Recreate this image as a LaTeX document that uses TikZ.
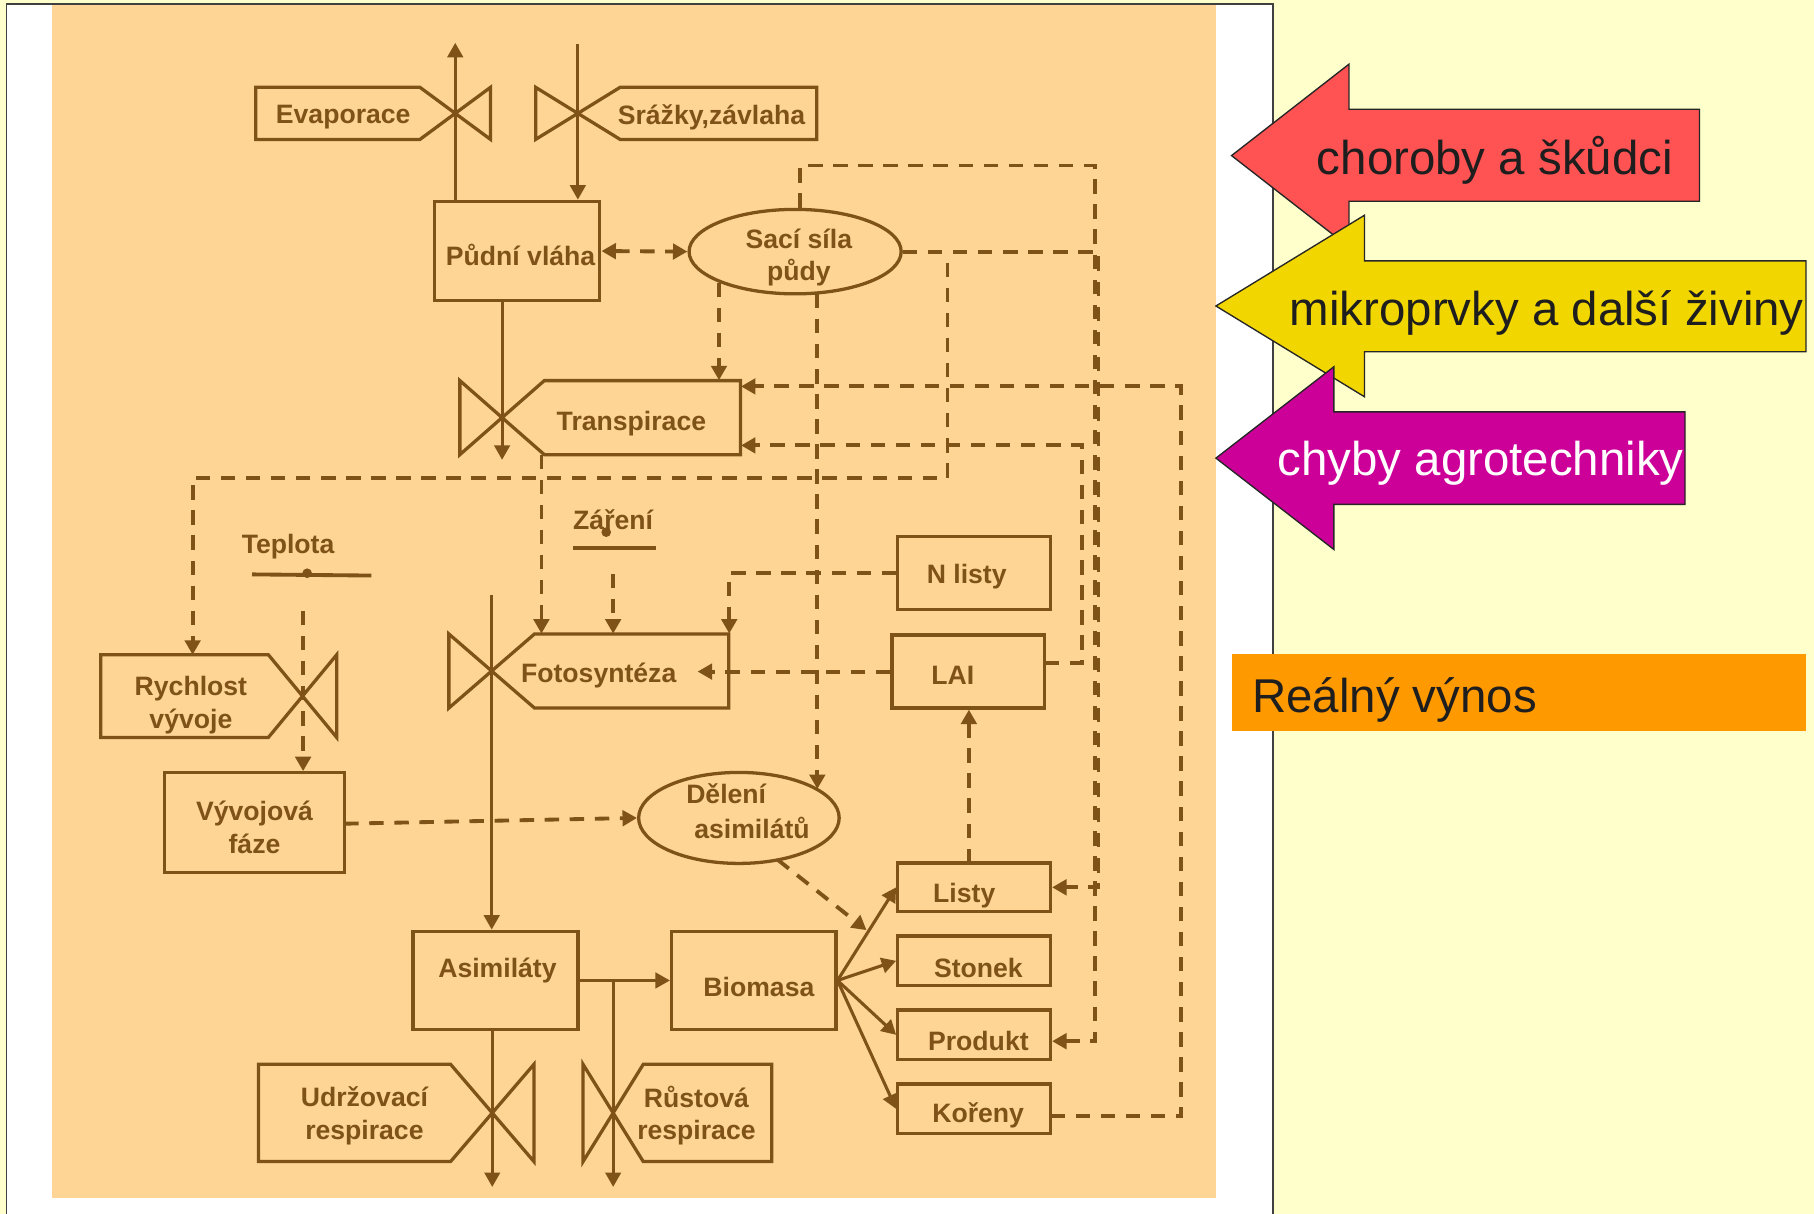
\documentclass[tikz,border=0pt]{standalone}
\usepackage{fontspec}
\setmainfont{Liberation Sans}
\usetikzlibrary{arrows.meta,shapes.geometric,fit}
\definecolor{brn}{HTML}{7F5218}
\definecolor{peach}{HTML}{FFD596}
\definecolor{ltyel}{HTML}{FFFFCC}
\definecolor{redarr}{HTML}{FF5252}
\definecolor{yelarr}{HTML}{F2D600}
\definecolor{magarr}{HTML}{CC0099}
\definecolor{orng}{HTML}{FF9900}
\definecolor{ink}{HTML}{1E1E1E}

% box with valve on its right side
\newcommand\ValveBoxA[5]{%
  \draw[boxline] ({#1-#4},{#2-#3}) -- (#5,{#2-#3}) -- (#5,{#2+#3}) -- ({#1-#4},{#2+#3})
    -- ({#1+#4},{#2-#3}) -- ({#1+#4},{#2+#3}) -- cycle;}
% box with valve on its left side
\newcommand\ValveBoxB[5]{%
  \draw[boxline] ({#1+#4},{#2-#3}) -- (#5,{#2-#3}) -- (#5,{#2+#3}) -- ({#1+#4},{#2+#3})
    -- ({#1-#4},{#2-#3}) -- ({#1-#4},{#2+#3}) -- cycle;}

\begin{document}
\begin{tikzpicture}[x=0.6pt,y=-0.6pt,
  >={Triangle[length=7.5pt,width=8pt]},
  lbl/.style={font=\fontsize{13.8}{16.8}\selectfont\bfseries, text=brn, align=center, inner sep=0pt},
  boxline/.style={draw=brn, line width=1.7pt, line join=miter},
  rbox/.style={boxline, rectangle, inner sep=0pt},
  ebox/.style={boxline, ellipse, inner sep=0pt},
  area/.style={inner sep=0pt, draw=none},
  flow/.style={draw=brn, line width=1.6pt, ->},
  info/.style={draw=brn, line width=2pt, dash pattern=on 7.5pt off 5.5pt},
  big/.style={font=\fontsize{24.6}{28}\selectfont, inner sep=0pt, text=ink},
  bigarrow/.style={draw=black!85, line width=0.7pt, line join=miter}
]
\useasboundingbox (0,0) rectangle (1568,1049);
% backgrounds
\fill[ltyel] (0,0) rectangle (1568,1049);
\fill[white] (5.5,3.5) rectangle (1100.5,1049);
\draw[black!75, line width=0.8pt] (5.5,1049) -- (5.5,3.5) -- (1100.5,3.5) -- (1100.5,1049);
\fill[peach] (45,4.5) rectangle (1051.5,1035.5);

% rectangles
\node[rbox, fit={(375.5,174) (518.5,260)}] (pv) {};
\node[rbox, fit={(357,805) (499.5,890)}] (as) {};
\node[rbox, fit={(580.5,805) (722.5,890)}] (bm) {};
\node[rbox, fit={(776,464) (908,527)}] (nl) {};
\node[rbox, fit={(771,549) (903,612)}] (lai) {};
\node[rbox, fit={(776,746) (908,788)}] (li) {};
\node[rbox, fit={(776,809) (908,852)}] (st) {};
\node[rbox, fit={(776,873) (908,916)}] (pr) {};
\node[rbox, fit={(776,937) (908,980)}] (ko) {};
\node[rbox, fit={(142.5,668) (297.5,754)}] (vf) {};

% ellipses
\node[ebox, minimum width=110pt, minimum height=43.8pt] (ss) at (687.3,217.5) {};
\node[ebox, minimum width=104pt, minimum height=47.2pt] (da) at (638.7,707) {};

% valve boxes
\coordinate (evc) at (393.5,98);   \ValveBoxA{393.5}{98}{22.5}{30.5}{221}
\coordinate (szc) at (499.5,98);   \ValveBoxB{499.5}{98}{22.5}{36.5}{706}
\coordinate (trc) at (434,361);    \ValveBoxB{434}{361}{32}{36.5}{640}
\coordinate (foc) at (425,580);    \ValveBoxB{425}{580}{32}{37}{630}
\coordinate (rvc) at (261.5,601.7);\ValveBoxA{261.5}{601.7}{35.7}{29.5}{87}
\coordinate (udc) at (425.5,962);  \ValveBoxA{425.5}{962}{42}{36}{223.5}
\coordinate (ruc) at (530,962);    \ValveBoxB{530}{962}{42}{26}{667}

\node[area, fit={(221,75.5) (424,120.5)}] (ev) {};
\node[area, fit={(463,75.5) (706,120.5)}] (sz) {};
\node[area, fit={(397.5,329) (640,393)}] (tr) {};
\node[area, fit={(388,548) (630,612)}] (fo) {};
\node[area, fit={(87,566) (291,637.4)}] (rv) {};
\node[area, fit={(223.5,920) (462,1004)}] (ud) {};
\node[area, fit={(504,920) (667,1004)}] (ru) {};

% labels
\node[lbl] (evt) at (296.7,101) {Evaporace};
\node[lbl] (szt) at (615,101) {Srážky,závlaha};
\node[lbl] (pvt) at (450,220.5) {Půdní vláha};
\node[lbl] (sst) at (690.5,222.5) {Sací síla\\půdy};
\node[lbl] (trt) at (545.8,366) {Transpirace};
\node[lbl] (fot) at (517.5,583.5) {Fotosyntéza};
\node[lbl] (rvt) at (165,609.5) {Rychlost\\vývoje};
\node[lbl] (vft) at (220,715) {Vývojová\\fáze};
\node[lbl] (dat1) at (627.7,686) {Dělení};
\node[lbl] (dat2) at (650,716) {asimilátů};
\node[lbl] (udt) at (315,964.5) {Udržovací\\respirace};
\node[lbl] (rut) at (602,964.5) {Růstová\\respirace};
\node[lbl] (ast) at (430,838.5) {Asimiláty};
\node[lbl] (bmt) at (656,853) {Biomasa};
\node[lbl] (nlt) at (835.6,498.5) {N listy};
\node[lbl] (lait) at (823.5,584) {LAI};
\node[lbl] (lit) at (833.5,774) {Listy};
\node[lbl] (stt) at (845.7,837) {Stonek};
\node[lbl] (prt) at (845.7,900) {Produkt};
\node[lbl] (kot) at (845.5,964) {Kořeny};
\node[lbl] (tpt) at (249,472.5) {Teplota};
\node[lbl] (zat) at (530,449) {Záření};

% Teplota / Zareni bars
\draw[brn, line width=2pt] (218,496.5) -- (321,497.5);
\node[circle, fill=brn, inner sep=0pt, minimum size=5pt] (tpdot) at (265.5,495.5) {};
\draw[brn, line width=2pt] (495,474) -- (567,474);
\node[circle, fill=brn, inner sep=0pt, minimum size=5pt] (zadot) at (524,460) {};

% solid flows
\coordinate (evtop) at (393.5,37);
\coordinate (sztop) at (499.5,38);
\coordinate (trbot) at (434,397.5);
\coordinate (fotop) at (425,514);
\coordinate (asbm) at (530,847.5);
\coordinate (udbot) at (425.5,1026);
\coordinate (rubot) at (530,1026);
\draw[flow] (pv.north -| evc) -- (evtop);
\draw[flow] (sztop) -- (pv.north -| sztop);
\draw[flow] (pv.south -| trc) -- (trbot);
\draw[flow] (fotop) -- (as.north -| fotop);
\draw[flow] (as.east) -- (bm.west);
\draw[flow] (asbm) -- (rubot);
\draw[flow] (as.south -| udbot) -- (udbot);
\draw[flow] (bm.east) -- (li.west);
\draw[flow] (bm.east) -- (st.west);
\draw[flow] (bm.east) -- (pr.west);
\draw[flow] (bm.east) -- (ko.west);

% dashed information links
\draw[info,<->] (pv.east) -- (ss.west);
\draw[info,->] (ss.south west) -- (ss.south west |- tr.north);
\draw[info,->] (ss.north) ++(4.5,0) |- (946.5,143) |- ([yshift=-3.3pt]pr.east);
\draw[info,->] (ss.east) -- (949.5,217.5) |- (li.east);
\coordinate (d5) at (819,227);
\coordinate (rvin) at (166.5,566);
\draw[info,->] (d5) |- (166.5,413) -- (rvin);
\coordinate (d6a) at (706.5,254);
\coordinate (d6b) at (706.5,682);
\draw[info,->] (d6a) -- (d6b);
\coordinate (ko1) at (908,965);
\coordinate (tr1) at (640.5,334);
\draw[info,->] (ko1) -| (1021,334) -- (tr1);
\coordinate (lai1) at (903,573);
\coordinate (tr2) at (640.5,385);
\draw[info,->] (lai1) -| (935,385) -- (tr2);
\draw[info,->] (nl.west) -| (fo.north east);
\coordinate (fo1) at (603,580.5);
\draw[info,->] (lai.west) -- (fo1);
\coordinate (za1) at (530,496);
\draw[info,->] (za1) -- (za1 |- fo.north);
\coordinate (tr3) at (468,393);
\draw[info,->] (tr3) -- (tr3 |- fo.north);
\coordinate (tp1) at (262,528);
\draw[info,->] (tp1) -- (tp1 |- vf.north);
\coordinate (vf1) at (297.5,712);
\draw[info,->] (vf1) -- (da.west);
\coordinate (da1) at (672,743);
\coordinate (da2) at (749,804);
\draw[info,->] (da1) -- (da2);
\coordinate (li1) at (837.5,746);
\draw[info,->] (li1) -- (li1 |- lai.south);

% right side arrows
\draw[bigarrow, fill=redarr] (1064.5,134.5) -- (1166,55.5) -- (1166,94.5) -- (1469,94.5)
  -- (1469,174) -- (1166,174) -- (1166,213.5) -- cycle;
\node[big, anchor=base west] (t1) at (1138,150.5) {choroby a škůdci};
\draw[bigarrow, fill=yelarr] (1051,264.5) -- (1179.5,186) -- (1179.5,225.5) -- (1561,225.5)
  -- (1561,304) -- (1179.5,304) -- (1179.5,343) -- cycle;
\node[big, anchor=base west] (t2) at (1114.5,281) {mikroprvky a další živiny};
\draw[bigarrow, fill=magarr] (1051,396) -- (1153,317) -- (1153,356) -- (1456.5,356)
  -- (1456.5,436) -- (1153,436) -- (1153,475) -- cycle;
\node[big, anchor=base west, text=white] (t3) at (1104,410.6) {chyby agrotechniky};
\node[fill=orng, inner sep=0pt, fit={(1065,565) (1561,631.5)}] (rv2) {};
\node[big, anchor=base west] (t4) at (1082,615.5) {Reálný výnos};
\end{tikzpicture}
\end{document}
